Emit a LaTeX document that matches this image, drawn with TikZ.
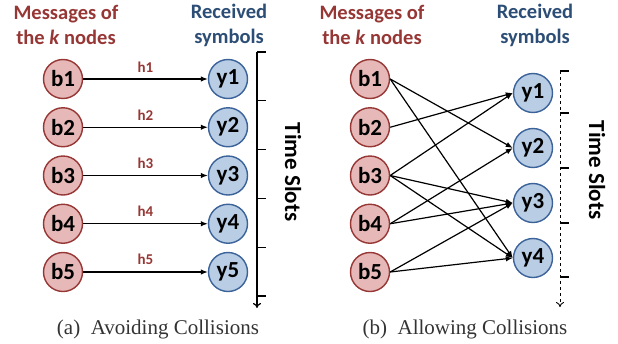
\documentclass[tikz,border=0pt]{standalone}
\usepackage{fontspec}
\setmainfont{Liberation Serif}
\newfontfamily\calibri{Carlito}
\usetikzlibrary{arrows.meta}
\definecolor{msgred}{HTML}{963735}
\definecolor{msgfill}{HTML}{E6B9B8}
\definecolor{rxblue}{HTML}{3B639A}
\definecolor{rxfill}{HTML}{B9CDE5}
\definecolor{headblue}{HTML}{2C4D75}
\definecolor{captgray}{HTML}{333333}
\tikzset{
    msg/.style={circle, draw=msgred, fill=msgfill, line width=1.4pt, minimum size=39pt, inner sep=0pt,
        font=\calibri\bfseries\fontsize{23}{23}\selectfont},
    rx/.style={circle, draw=rxblue, fill=rxfill, line width=1.4pt, minimum size=39pt, inner sep=0pt,
        font=\calibri\bfseries\fontsize{23}{23}\selectfont},
    link/.style={-{Latex[length=7pt,width=5.5pt]}, line width=1.2pt},
    heading/.style={align=center, font=\calibri\bfseries\fontsize{20.5}{25}\selectfont},
    hlabel/.style={text=msgred, font=\calibri\bfseries\fontsize{15}{15}\selectfont, above=3pt},
    slots/.style={rotate=-90, font=\calibri\bfseries\fontsize{23}{23}\selectfont},
    caption/.style={text=captgray, font=\fontsize{21}{21}\selectfont},
    axis/.style={line width=1.2pt, -{To[length=5pt,width=8pt]}}
}
\begin{document}
\begin{tikzpicture}[x=1pt,y=-1pt]
    \useasboundingbox (0,0) rectangle (618,343);
    % (a) avoiding collisions
    \node[heading, text=msgred] (a-msg) at (66,25) {Messages of\\the \textit{k} nodes};
    \node[heading, text=headblue] (a-rx) at (229,25) {Received\\symbols};
    \foreach \i in {1,...,5} {
        \node[msg] (a-b\i) at (63,{79+48.25*(\i-1)}) {b\i};
        \node[rx] (a-y\i) at (228,{79+48.25*(\i-1)}) {y\i};
        \draw[link] (a-b\i) -- node[hlabel] {h\i} (a-y\i);
    }
    \coordinate (a-top) at (257,52);
    \coordinate (a-end) at (257,308);
    \draw[axis] (a-top) -- (a-end);
    \foreach \t in {0,...,5} {
        \draw[line width=1.2pt] (257,{52+48.8*\t}) -- ++(9,0);
    }
    \node[slots] (a-slots) at (293,172) {Time Slots};
    \node[caption] (a-cap) at (158,329) {(a)\enspace Avoiding Collisions};
    % (b) allowing collisions
    \node[heading, text=msgred] (b-msg) at (372,25) {Messages of\\the \textit{k} nodes};
    \node[heading, text=headblue] (b-rx) at (535,25) {Received\\symbols};
    \foreach \i in {1,...,5} {
        \node[msg] (b-b\i) at (370,{79+48.25*(\i-1)}) {b\i};
    }
    \foreach \j in {1,...,4} {
        \node[rx] (b-y\j) at (533,{93+55*(\j-1)}) {y\j};
    }
    \foreach \s/\t in {1/2,1/4,2/1,3/1,3/3,3/4,4/2,4/3,5/3,5/4} {
        \draw[link] (b-b\s.east) -- (b-y\t.west);
    }
    \coordinate (b-top) at (560,71);
    \coordinate (b-end) at (560,307);
    \draw[axis, dashed, line width=0.9pt] (b-top) -- (b-end);
    \foreach \t in {71,113,168,223,277} {
        \draw[line width=1.2pt] (560,\t) -- ++(9,0);
    }
    \node[slots] (b-slots) at (597,170) {Time Slots};
    \node[caption] (b-cap) at (465,329) {(b)\enspace Allowing Collisions};
\end{tikzpicture}
\end{document}
